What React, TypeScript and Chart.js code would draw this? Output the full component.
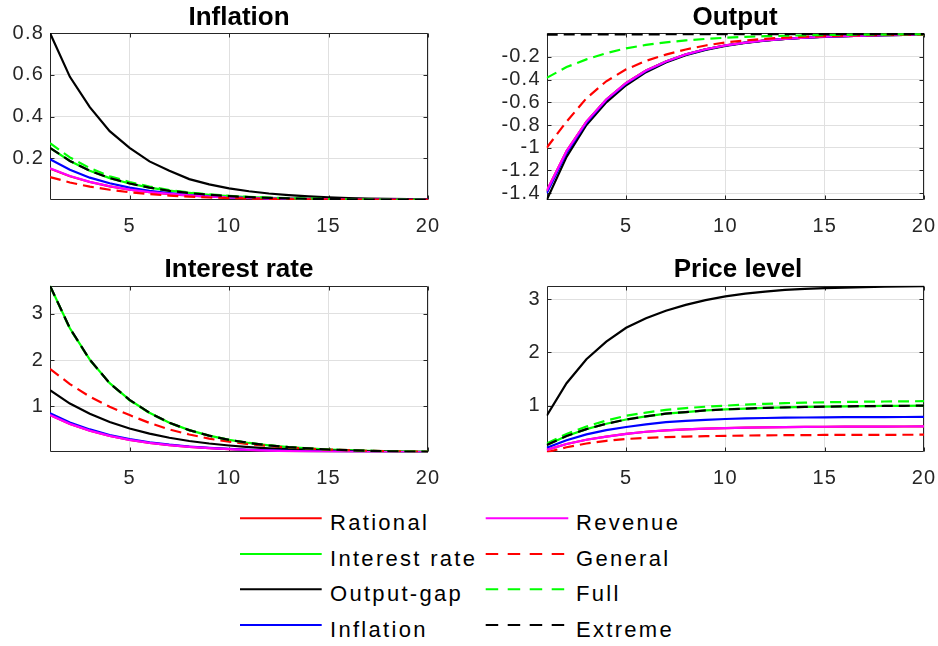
import React, { useEffect, useRef } from "react";
import { Chart, registerables } from "chart.js";

Chart.register(...registerables);

// ---------- data ----------
const periods = [1, 2, 3, 4, 5, 6, 7, 8, 9, 10, 11, 12, 13, 14, 15, 16, 17, 18, 19, 20];
const xTickValues = [5, 10, 15, 20];

const seriesNames = ["Rational", "Interest rate", "Output-gap", "Inflation", "Revenue", "General", "Full", "Extreme"];
const seriesColors = ["#ff0000", "#00ff00", "#000000", "#0000ff", "#ff00ff", "#ff0000", "#00ff00", "#000000"];
const seriesDashed = [false, false, false, false, false, true, true, true];

// Inflation panel
const inflRational = [0.150, 0.114, 0.086, 0.065, 0.049, 0.037, 0.028, 0.021, 0.016, 0.012, 0.009, 0.0069, 0.0052, 0.0039, 0.003, 0.0023, 0.0017, 0.0013, 0.001, 0.0008];
const inflInterest = [0.249, 0.187, 0.140, 0.105, 0.079, 0.059, 0.045, 0.034, 0.025, 0.019, 0.0143, 0.0107, 0.008, 0.006, 0.0045, 0.0034, 0.0026, 0.0019, 0.0015, 0.0011];
const inflOutputGap = [0.80, 0.59, 0.445, 0.33, 0.25, 0.185, 0.14, 0.10, 0.075, 0.056, 0.042, 0.031, 0.023, 0.017, 0.013, 0.0095, 0.007, 0.005, 0.004, 0.003];
const inflInflation = [0.195, 0.145, 0.107, 0.08, 0.059, 0.044, 0.033, 0.024, 0.018, 0.013, 0.0098, 0.0073, 0.0054, 0.004, 0.003, 0.0022, 0.0016, 0.0012, 0.0009, 0.0007];
const inflRevenue = [0.152, 0.115, 0.087, 0.066, 0.05, 0.038, 0.029, 0.022, 0.0165, 0.0125, 0.0095, 0.0072, 0.0054, 0.0041, 0.0031, 0.0024, 0.0018, 0.0014, 0.001, 0.0008];
const inflGeneral = [0.11, 0.084, 0.064, 0.049, 0.037, 0.028, 0.021, 0.016, 0.012, 0.0093, 0.0071, 0.0054, 0.0041, 0.0031, 0.0024, 0.0018, 0.0014, 0.0011, 0.0008, 0.0006];
const inflFull = [0.272, 0.204, 0.153, 0.114, 0.086, 0.064, 0.048, 0.036, 0.027, 0.020, 0.015, 0.011, 0.0085, 0.0064, 0.0048, 0.0036, 0.0027, 0.002, 0.0015, 0.0011];
const inflExtreme = [0.25, 0.187, 0.14, 0.105, 0.079, 0.059, 0.044, 0.033, 0.025, 0.019, 0.014, 0.0105, 0.0079, 0.0059, 0.0044, 0.0033, 0.0025, 0.0019, 0.0014, 0.001];
const inflYTicks = [0.2, 0.4, 0.6, 0.8];

// Output panel
const outRational = [-1.38, -1.03, -0.77, -0.575, -0.43, -0.32, -0.24, -0.178, -0.133, -0.099, -0.074, -0.055, -0.041, -0.031, -0.023, -0.017, -0.013, -0.0095, -0.007, -0.0053];
const outInterest = [-1.39, -1.04, -0.775, -0.578, -0.432, -0.322, -0.241, -0.179, -0.134, -0.1, -0.075, -0.056, -0.042, -0.031, -0.023, -0.017, -0.013, -0.0096, -0.0071, -0.0054];
const outOutputGap = [-1.46, -1.08, -0.80, -0.60, -0.45, -0.335, -0.25, -0.185, -0.138, -0.103, -0.077, -0.057, -0.043, -0.032, -0.024, -0.018, -0.013, -0.01, -0.0075, -0.0056];
const outInflation = [-1.40, -1.045, -0.78, -0.58, -0.435, -0.325, -0.243, -0.18, -0.134, -0.1, -0.075, -0.056, -0.042, -0.031, -0.023, -0.017, -0.013, -0.0097, -0.0072, -0.0054];
const outRevenue = [-1.38, -1.03, -0.77, -0.575, -0.43, -0.32, -0.24, -0.178, -0.133, -0.099, -0.074, -0.055, -0.041, -0.031, -0.023, -0.017, -0.013, -0.0095, -0.007, -0.0053];
const outGeneral = [-1.0, -0.77, -0.565, -0.415, -0.31, -0.235, -0.18, -0.135, -0.1, -0.073, -0.055, -0.041, -0.031, -0.023, -0.017, -0.013, -0.0095, -0.007, -0.0053, -0.004];
const outFull = [-0.385, -0.29, -0.222, -0.168, -0.125, -0.095, -0.072, -0.055, -0.042, -0.032, -0.024, -0.018, -0.014, -0.0105, -0.008, -0.006, -0.0046, -0.0035, -0.0026, -0.002];
const outExtreme = [-0.004, -0.003, -0.0025, -0.002, -0.0018, -0.0015, -0.0012, -0.001, -0.0008, -0.0007, -0.0006, -0.0005, -0.0004, -0.0003, -0.0003, -0.0002, -0.0002, -0.0001, -0.0001, -0.0001];
const outYTicks = [-1.4, -1.2, -1, -0.8, -0.6, -0.4, -0.2];

// Interest rate panel
const irRational = [0.81, 0.62, 0.475, 0.36, 0.275, 0.21, 0.16, 0.123, 0.094, 0.072, 0.055, 0.042, 0.032, 0.025, 0.019, 0.015, 0.011, 0.009, 0.007, 0.005];
const irInterest = [3.61, 2.69, 2.01, 1.50, 1.14, 0.86, 0.645, 0.485, 0.365, 0.275, 0.207, 0.156, 0.117, 0.088, 0.066, 0.05, 0.037, 0.028, 0.021, 0.016];
const irOutputGap = [1.35, 1.06, 0.84, 0.66, 0.52, 0.41, 0.32, 0.25, 0.195, 0.152, 0.118, 0.092, 0.072, 0.056, 0.044, 0.034, 0.027, 0.021, 0.016, 0.013];
const irInflation = [0.85, 0.65, 0.50, 0.38, 0.29, 0.22, 0.17, 0.13, 0.10, 0.077, 0.059, 0.045, 0.034, 0.026, 0.02, 0.015, 0.012, 0.009, 0.007, 0.005];
const irRevenue = [0.81, 0.62, 0.475, 0.36, 0.275, 0.21, 0.16, 0.123, 0.094, 0.072, 0.055, 0.042, 0.032, 0.025, 0.019, 0.015, 0.011, 0.009, 0.007, 0.005];
const irGeneral = [1.81, 1.48, 1.21, 0.99, 0.81, 0.64, 0.50, 0.39, 0.30, 0.235, 0.18, 0.14, 0.108, 0.083, 0.064, 0.05, 0.038, 0.029, 0.022, 0.017];
const irFull = [3.60, 2.68, 2.0, 1.50, 1.13, 0.855, 0.64, 0.482, 0.363, 0.273, 0.205, 0.155, 0.116, 0.087, 0.066, 0.049, 0.037, 0.028, 0.021, 0.016];
const irExtreme = [3.61, 2.69, 2.01, 1.50, 1.14, 0.86, 0.645, 0.485, 0.365, 0.275, 0.207, 0.156, 0.117, 0.088, 0.066, 0.05, 0.037, 0.028, 0.021, 0.016];
const irYTicks = [1, 2, 3];

// Price level panel
const prRational = [0.17, 0.28, 0.36, 0.42, 0.47, 0.51, 0.535, 0.555, 0.57, 0.58, 0.588, 0.594, 0.598, 0.601, 0.604, 0.606, 0.607, 0.608, 0.609, 0.61];
const prInterest = [0.26, 0.43, 0.56, 0.66, 0.74, 0.80, 0.85, 0.88, 0.91, 0.93, 0.945, 0.958, 0.968, 0.976, 0.982, 0.987, 0.991, 0.994, 0.997, 1.0];
const prOutputGap = [0.81, 1.42, 1.87, 2.2, 2.46, 2.64, 2.78, 2.89, 2.98, 3.05, 3.1, 3.14, 3.17, 3.19, 3.205, 3.215, 3.225, 3.23, 3.235, 3.24];
const prInflation = [0.21, 0.35, 0.46, 0.54, 0.60, 0.65, 0.69, 0.715, 0.735, 0.75, 0.76, 0.768, 0.774, 0.778, 0.781, 0.783, 0.785, 0.786, 0.787, 0.788];
const prRevenue = [0.17, 0.28, 0.36, 0.42, 0.47, 0.51, 0.535, 0.555, 0.57, 0.58, 0.588, 0.594, 0.598, 0.601, 0.604, 0.606, 0.607, 0.608, 0.609, 0.61];
const prGeneral = [0.126, 0.22, 0.29, 0.34, 0.375, 0.395, 0.41, 0.42, 0.428, 0.434, 0.439, 0.443, 0.446, 0.448, 0.45, 0.451, 0.452, 0.453, 0.454, 0.455];
const prFull = [0.29, 0.47, 0.61, 0.72, 0.81, 0.87, 0.92, 0.955, 0.98, 1.0, 1.02, 1.035, 1.047, 1.056, 1.063, 1.069, 1.074, 1.078, 1.081, 1.084];
const prExtreme = [0.26, 0.43, 0.56, 0.66, 0.74, 0.80, 0.85, 0.88, 0.91, 0.93, 0.945, 0.958, 0.968, 0.976, 0.982, 0.987, 0.991, 0.994, 0.997, 1.0];
const prYTicks = [1, 2, 3];

// ---------- styling ----------
const FONT = "'Liberation Sans', Arial, Helvetica, sans-serif";
const AXIS_COLOR = "#262626";
const GRID_COLOR = "#e0e0e0";

const matlabAxesPlugin = {
  id: "matlabAxes",
  beforeDraw(chart: any) {
    (chart.ctx as any).letterSpacing = "1.2px";
  },
  beforeDatasetsDraw(chart: any) {
    const { ctx, chartArea: a, scales } = chart;
    const tl = 4;
    ctx.save();
    ctx.strokeStyle = AXIS_COLOR;
    ctx.lineWidth = 1;
    const L = Math.round(a.left) + 0.5;
    const R = Math.round(a.right) - 0.5;
    const T = Math.round(a.top) + 0.5;
    const B = Math.round(a.bottom) - 0.5;
    ctx.beginPath();
    ctx.rect(L, T, R - L, B - T);
    const xs = scales.x.ticks.map((t: any) => t.value);
    const ys = scales.y.ticks.map((t: any) => t.value);
    xs.forEach((v: number) => {
      const px = Math.round(scales.x.getPixelForValue(v)) + 0.5;
      ctx.moveTo(px, B);
      ctx.lineTo(px, B - tl);
      ctx.moveTo(px, T);
      ctx.lineTo(px, T + tl);
    });
    ys.forEach((v: number) => {
      const py = Math.round(scales.y.getPixelForValue(v)) + 0.5;
      ctx.moveTo(L, py);
      ctx.lineTo(L + tl, py);
      ctx.moveTo(R, py);
      ctx.lineTo(R - tl, py);
    });
    ctx.stroke();
    ctx.restore();
  },
};

function clearScalePadding(s: any) {
  s.paddingLeft = 0;
  s.paddingRight = 0;
  s.paddingTop = 0;
  s.paddingBottom = 0;
}

type PanelProps = {
  left: number;
  top: number;
  width: number;
  height: number;
  padTop: number;
  padRight: number;
  yAxisWidth: number;
  xAxisHeight: number;
  yMin: number;
  yMax: number;
  yTicks: number[];
  values: number[][];
};

function Panel(p: PanelProps) {
  const ref = useRef<HTMLCanvasElement | null>(null);
  useEffect(() => {
    if (!ref.current) return;
    const datasets = p.values.map((vals, i) => ({
      label: seriesNames[i],
      data: vals.map((v, k) => ({ x: periods[k], y: v })),
      borderColor: seriesColors[i],
      backgroundColor: seriesColors[i],
      borderWidth: 2.2,
      borderDash: seriesDashed[i] ? [11, 6] : [],
      pointRadius: 0,
      pointHoverRadius: 0,
      tension: 0,
      fill: false,
      order: p.values.length - i,
    }));
    const tickFont = { family: FONT, size: 20 };
    const chart = new Chart(ref.current, {
      type: "line",
      data: { datasets },
      plugins: [matlabAxesPlugin],
      options: {
        responsive: false,
        animation: false,
        events: [],
        layout: { padding: { top: p.padTop, right: p.padRight, left: 0, bottom: 0 } },
        plugins: {
          legend: { display: false },
          title: { display: false },
          tooltip: { enabled: false },
        },
        scales: {
          x: {
            type: "linear",
            min: 1,
            max: 20,
            afterBuildTicks: (s: any) => {
              s.ticks = xTickValues.map((v) => ({ value: v }));
            },
            afterFit: (s: any) => {
              s.height = p.xAxisHeight;
              clearScalePadding(s);
            },
            grid: { color: GRID_COLOR, lineWidth: 1, drawTicks: false },
            border: { display: false },
            ticks: {
              padding: 14,
              color: AXIS_COLOR,
              font: tickFont,
              maxRotation: 0,
              autoSkip: false,
              callback: (v: any) => String(v),
            },
          },
          y: {
            type: "linear",
            min: p.yMin,
            max: p.yMax,
            afterBuildTicks: (s: any) => {
              s.ticks = p.yTicks.map((v) => ({ value: v }));
            },
            afterFit: (s: any) => {
              s.width = p.yAxisWidth;
              clearScalePadding(s);
            },
            grid: { color: GRID_COLOR, lineWidth: 1, drawTicks: false },
            border: { display: false },
            ticks: {
              padding: 6,
              color: AXIS_COLOR,
              font: tickFont,
              autoSkip: false,
              callback: (v: any) => String(v),
            },
          },
        },
      } as any,
    });
    return () => chart.destroy();
  }, []);
  return (
    <canvas
      ref={ref}
      width={p.width}
      height={p.height}
      style={{ position: "absolute", left: p.left, top: p.top, width: p.width, height: p.height }}
    />
  );
}

function Title({ text, center, top }: { text: string; center: number; top: number }) {
  return (
    <div
      style={{
        position: "absolute",
        left: center - 200,
        top,
        width: 400,
        textAlign: "center",
        fontFamily: FONT,
        fontWeight: "bold",
        fontSize: 26,
        lineHeight: "30px",
        color: "#000",
        whiteSpace: "nowrap",
      }}
    >
      {text}
    </div>
  );
}

const legendColumns = [
  [0, 1, 2, 3],
  [4, 5, 6, 7],
];

function Legend() {
  const rowY = [518.3, 554, 589.3, 625];
  const colLine = [
    [240, 321.7],
    [485.7, 568.3],
  ];
  const colText = [330, 576];
  const items: any[] = [];
  legendColumns.forEach((col, c) => {
    col.forEach((si, r) => {
      const y = rowY[r];
      items.push(
        <svg
          key={`l${si}`}
          style={{ position: "absolute", left: 0, top: 0, overflow: "visible" }}
          width={1}
          height={1}
        >
          <line
            x1={colLine[c][0]}
            x2={colLine[c][1]}
            y1={y}
            y2={y}
            stroke={seriesColors[si]}
            strokeWidth={2}
            strokeDasharray={seriesDashed[si] ? "12.5 9.5" : undefined}
          />
        </svg>
      );
      items.push(
        <div
          key={`t${si}`}
          style={{
            position: "absolute",
            left: colText[c],
            top: y + 12 - 20,
            fontFamily: FONT,
            fontSize: 22,
            lineHeight: "25px",
            letterSpacing: "2.3px",
            color: "#000",
            whiteSpace: "nowrap",
          }}
        >
          {seriesNames[si]}
        </div>
      );
    });
  });
  return <>{items}</>;
}

export default function App() {
  return (
    <div
      style={{
        position: "absolute",
        left: 0,
        top: 0,
        width: 938,
        height: 646,
        background: "#fff",
        overflow: "hidden",
      }}
    >
      <Panel
        left={0}
        top={23}
        width={469}
        height={222}
        padTop={10}
        padRight={41}
        yAxisWidth={50}
        xAxisHeight={45}
        yMin={0}
        yMax={0.8}
        yTicks={inflYTicks}
        values={[inflRational, inflInterest, inflOutputGap, inflInflation, inflRevenue, inflGeneral, inflFull, inflExtreme]}
      />
      <Panel
        left={469}
        top={23}
        width={469}
        height={222}
        padTop={10}
        padRight={14}
        yAxisWidth={77.7}
        xAxisHeight={45}
        yMin={-1.46}
        yMax={0.01}
        yTicks={outYTicks}
        values={[outRational, outInterest, outOutputGap, outInflation, outRevenue, outGeneral, outFull, outExtreme]}
      />
      <Panel
        left={0}
        top={276}
        width={469}
        height={222}
        padTop={9.7}
        padRight={41}
        yAxisWidth={50}
        xAxisHeight={45.7}
        yMin={0.005}
        yMax={3.61}
        yTicks={irYTicks}
        values={[irRational, irInterest, irOutputGap, irInflation, irRevenue, irGeneral, irFull, irExtreme]}
      />
      <Panel
        left={469}
        top={276}
        width={469}
        height={222}
        padTop={9.7}
        padRight={14}
        yAxisWidth={77.7}
        xAxisHeight={45.7}
        yMin={0.125}
        yMax={3.25}
        yTicks={prYTicks}
        values={[prRational, prInterest, prOutputGap, prInflation, prRevenue, prGeneral, prFull, prExtreme]}
      />
      <Title text="Inflation" center={239} top={1} />
      <Title text="Output" center={735} top={1} />
      <Title text="Interest rate" center={239} top={253} />
      <Title text="Price level" center={738} top={253} />
      <Legend />
    </div>
  );
}
